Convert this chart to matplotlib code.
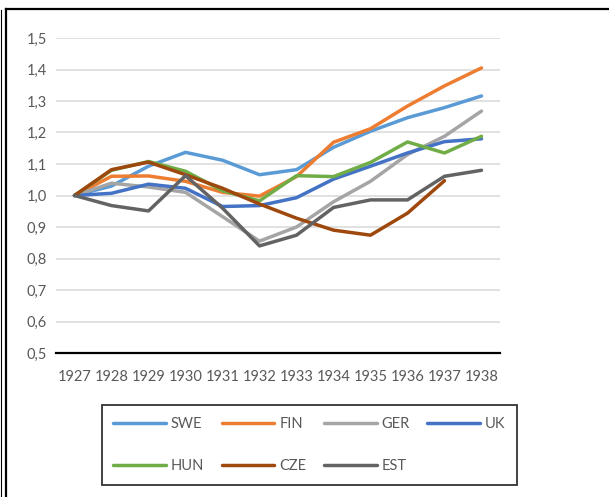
import matplotlib
matplotlib.use("Agg")
import matplotlib.pyplot as plt
from matplotlib.lines import Line2D

plt.rcParams['font.family'] = ['Lato', 'DejaVu Sans']

years = ['1927', '1928', '1929', '1930', '1931', '1932',
         '1933', '1934', '1935', '1936', '1937', '1938']
swe = [1.0, 1.03, 1.093, 1.137, 1.112, 1.066, 1.082, 1.153, 1.204, 1.247, 1.279, 1.316]
fin = [1.0, 1.061, 1.062, 1.045, 1.01, 0.998, 1.06, 1.169, 1.212, 1.284, 1.348, 1.405]
ger = [1.0, 1.039, 1.027, 1.01, 0.933, 0.855, 0.90, 0.98, 1.045, 1.13, 1.188, 1.268]
uk = [1.0, 1.007, 1.036, 1.023, 0.965, 0.968, 0.993, 1.052, 1.093, 1.135, 1.171, 1.18]
hun = [1.0, 1.08, 1.108, 1.077, 1.015, 0.983, 1.063, 1.06, 1.105, 1.17, 1.135, 1.188]
cze = [1.0, 1.082, 1.106, 1.066, 1.023, 0.973, 0.928, 0.89, 0.874, 0.944, 1.047, None]
est = [1.0, 0.968, 0.951, 1.063, 0.96, 0.84, 0.874, 0.962, 0.986, 0.986, 1.061, 1.08]

names = ['SWE', 'FIN', 'GER', 'UK', 'HUN', 'CZE', 'EST']
series = [swe, fin, ger, uk, hun, cze, est]
colors = ['#5B9BD5', '#ED7D31', '#A5A5A5', '#4472C4', '#70AD47', '#9E480E', '#636363']

fig = plt.figure(figsize=(6.09, 4.97), dpi=100)
ax = fig.add_axes([56/609, 1-353/497, 444/609, 315/497])

x = list(range(len(years)))
lines = {}
for name, vals, c in zip(names, series, colors):
    xs = [i for i, v in zip(x, vals) if v is not None]
    ys = [v for v in vals if v is not None]
    ln, = ax.plot(xs, ys, color=c, lw=2.5, solid_capstyle='round', label=name)
    lines[name] = ln

ax.set_xlim(-0.5, 11.5)
ax.set_ylim(0.5, 1.5)
yt = [0.5 + 0.1*i for i in range(11)]
ax.set_yticks(yt)
ax.set_yticklabels([f"{v:.1f}".replace('.', ',') for v in yt])
ax.set_xticks(x)
ax.set_xticklabels(years)
ax.tick_params(axis='y', length=0, pad=6.5, labelsize=10.5, labelcolor='#595959')
ax.tick_params(axis='x', length=0, pad=12.5, labelsize=10.5, labelcolor='#595959')
ax.grid(axis='y', color='#D9D9D9', lw=1.1)
ax.set_axisbelow(True)
for s in ['top', 'right', 'left']:
    ax.spines[s].set_visible(False)
ax.spines['bottom'].set_color('black')
ax.spines['bottom'].set_linewidth(1.6)
ax.spines['bottom'].set_zorder(5)

order = ['SWE', 'HUN', 'FIN', 'CZE', 'GER', 'EST', 'UK']
leg = fig.legend([lines[n] for n in order], order, ncol=4,
                 loc='center', bbox_to_anchor=(309.5/609, 1-445/497),
                 fontsize=10.5, handlelength=3.6, handletextpad=0.35,
                 columnspacing=1.2, labelspacing=1.9, borderpad=0.8,
                 fancybox=False, edgecolor='black', labelcolor='#595959')
leg.get_frame().set_linewidth(1.3)

# outer chart frame
fig.add_artist(Line2D([6/609, 6/609], [0, 1-9/497], color='black', lw=1.6, transform=fig.transFigure))
fig.add_artist(Line2D([6/609, 1], [1-9/497, 1-9/497], color='black', lw=1.6, transform=fig.transFigure))
fig.add_artist(Line2D([0.6/609, 0.6/609], [0, 1-10/497], color='black', lw=0.8, transform=fig.transFigure))

fig.savefig('out.png', dpi=100)
